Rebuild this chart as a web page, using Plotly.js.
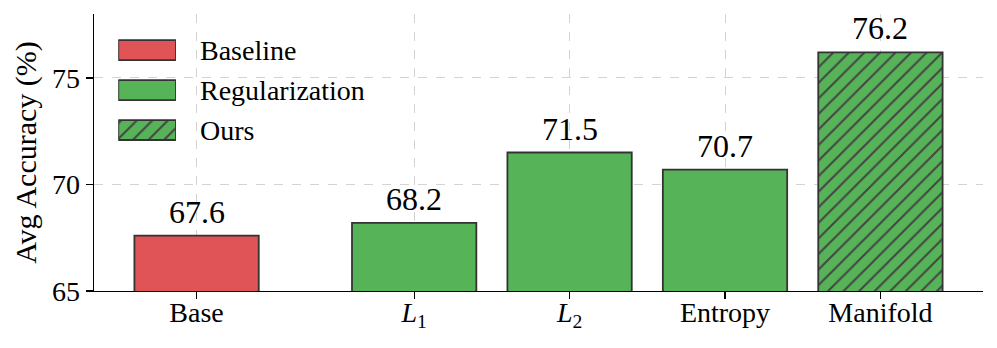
<!DOCTYPE html>
<html>
<head>
<meta charset="utf-8">
<script src="https://cdn.plot.ly/plotly-3.0.1.min.js"></script>
<style>html,body{margin:0;padding:0;background:#fff;}#chart{width:997px;height:348px;}</style>
</head>
<body>
<div id="chart"></div>
<script>
const categories = ['Base', '<i>L</i><sub>1</sub>', '<i>L</i><sub>2</sub>', 'Entropy', 'Manifold'];
const positions = [0, 1.4, 2.4, 3.4, 4.4];
const accuracy = [67.6, 68.2, 71.5, 70.7, 76.2];
const groups = ['Baseline', 'Regularization', 'Regularization', 'Regularization', 'Ours'];
const groupNames = ['Baseline', 'Regularization', 'Ours'];
const groupColors = {Baseline: '#e05357', Regularization: '#56b358', Ours: '#56b358'};
const groupHatch = {Baseline: '', Regularization: '', Ours: '/'};
const yTicks = [65, 70, 75];

const FONT = 'Liberation Serif';
const EDGE = '#333333';

const mainTrace = {
  type: 'bar',
  x: positions,
  y: accuracy,
  width: 0.8,
  showlegend: false,
  hoverinfo: 'skip',
  marker: {
    color: groups.map(g => groupColors[g]),
    line: {color: EDGE, width: 1.8},
    pattern: {
      shape: groups.map(g => groupHatch[g]),
      fillmode: 'overlay', fgcolor: EDGE, fgopacity: 1, size: 11, solidity: 0.18
    }
  },
  xaxis: 'x', yaxis: 'y'
};

const legX = [0.0273, 0.0922];
const legY = [0.509, 0.942];

const legendTrace = {
  type: 'bar',
  orientation: 'h',
  y: groupNames.map((_, i) => i),
  x: groupNames.map(() => 1),
  base: 0,
  width: 0.5,
  showlegend: false,
  hoverinfo: 'skip',
  marker: {
    color: groupNames.map(g => groupColors[g]),
    line: {color: EDGE, width: 1.8},
    pattern: {
      shape: groupNames.map(g => groupHatch[g]),
      fillmode: 'overlay', fgcolor: EDGE, fgopacity: 1, size: 11, solidity: 0.18
    }
  },
  xaxis: 'x2', yaxis: 'y2'
};

const valueLabels = positions.map((p, i) => ({
  x: p, y: accuracy[i], xref: 'x', yref: 'y',
  text: accuracy[i].toFixed(1),
  showarrow: false, yanchor: 'bottom', xanchor: 'center', yshift: 4,
  font: {family: FONT, size: 32, color: '#000'}
}));

const legendLabels = groupNames.map((g, i) => ({
  x: legX[0] + 1.38 * (legX[1] - legX[0]),
  y: legY[1] - (i + 0.5) / 3 * (legY[1] - legY[0]),
  xref: 'paper', yref: 'paper',
  text: g, showarrow: false, xanchor: 'left', yanchor: 'middle',
  font: {family: FONT, size: 28, color: '#000'}
}));

const layout = {
  width: 997, height: 348,
  margin: {l: 94, r: 14, t: 14, b: 57, pad: 0},
  paper_bgcolor: '#ffffff',
  plot_bgcolor: 'rgba(0,0,0,0)',
  font: {family: FONT, size: 28, color: '#000'},
  bargap: 0,
  xaxis: {
    range: [-0.66, 5.06],
    tickvals: positions,
    ticktext: categories,
    showline: true, linecolor: '#000', linewidth: 1.3,
    ticks: 'outside', ticklen: 7, tickwidth: 1.3, tickcolor: '#000',
    ticklabelstandoff: -11,
    showgrid: true, gridcolor: '#d3d3d3', griddash: 'dash', gridwidth: 1,
    zeroline: false, fixedrange: true,
    tickfont: {family: FONT, size: 28, color: '#000'}
  },
  yaxis: {
    range: [65, 78],
    tickvals: yTicks,
    ticktext: yTicks.map(String),
    showline: true, linecolor: '#000', linewidth: 1.3,
    ticks: 'outside', ticklen: 7, tickwidth: 1.3, tickcolor: '#000',
    showgrid: true, gridcolor: '#d3d3d3', griddash: 'dash', gridwidth: 1,
    zeroline: false, fixedrange: true,
    tickfont: {family: FONT, size: 28, color: '#000'},
    title: {text: 'Avg Accuracy (%)', font: {family: FONT, size: 30, color: '#000'}, standoff: 6}
  },
  xaxis2: {domain: legX, range: [0, 1], anchor: 'y2', visible: false, fixedrange: true},
  yaxis2: {domain: legY, range: [2.5, -0.5], anchor: 'x2', visible: false, fixedrange: true},
  annotations: valueLabels.concat(legendLabels),
  showlegend: false
};

Plotly.newPlot('chart', [mainTrace, legendTrace], layout, {displayModeBar: false, staticPlot: true});
</script>
</body>
</html>
